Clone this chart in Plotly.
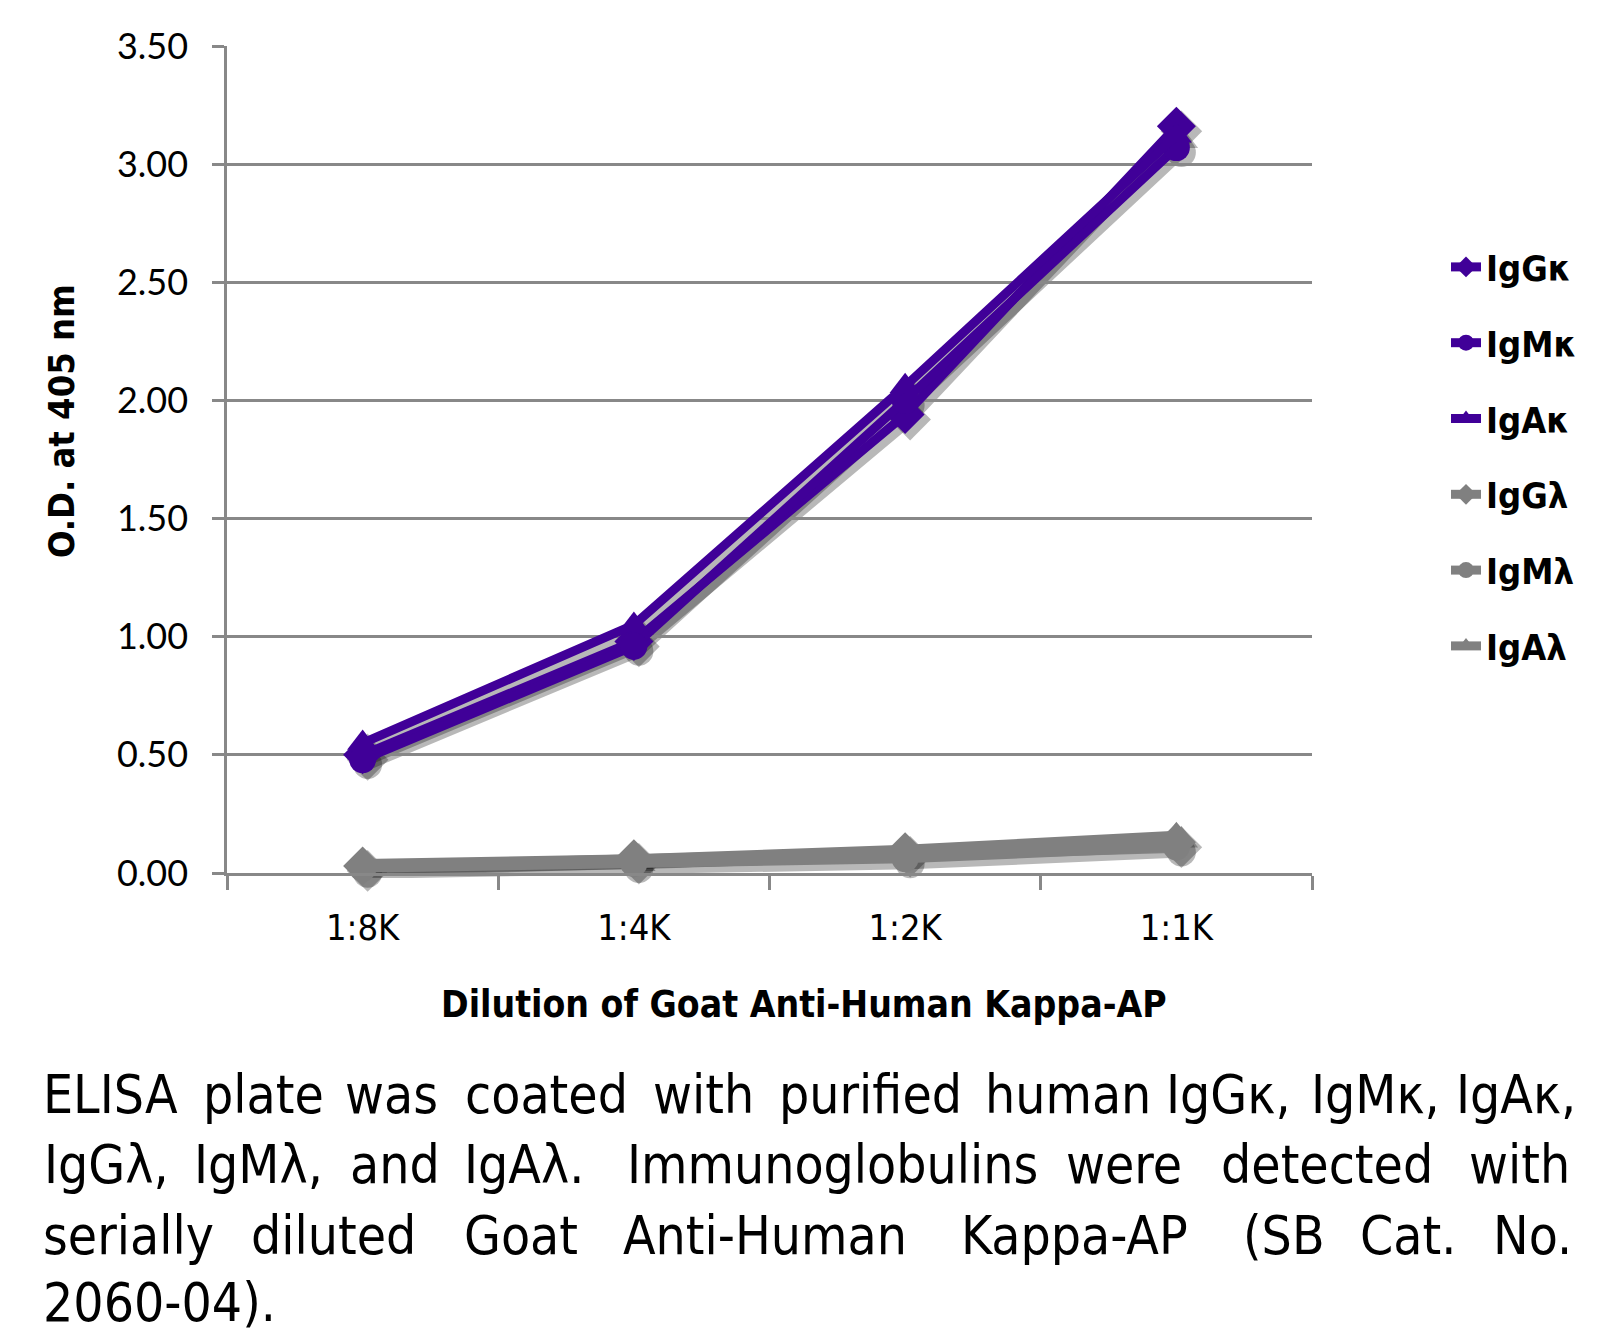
import plotly.graph_objects as go

# ---------------- data ----------------
categories = ["1:8K", "1:4K", "1:2K", "1:1K"]
series_names = ["IgGκ", "IgMκ", "IgAκ", "IgGλ", "IgMλ", "IgAλ"]
igg_kappa = [0.50, 0.98, 1.94, 3.16]
igm_kappa = [0.48, 0.96, 2.00, 3.07]
iga_kappa = [0.55, 1.05, 2.06, 3.12]
igg_lambda = [0.03, 0.06, 0.09, 0.13]
igm_lambda = [0.02, 0.04, 0.06, 0.11]
iga_lambda = [0.04, 0.06, 0.10, 0.16]
y_ticks = [0.0, 0.5, 1.0, 1.5, 2.0, 2.5, 3.0, 3.5]

x_title = "Dilution of Goat Anti-Human Kappa-AP"
y_title = "O.D. at 405 nm"
caption_line1 = ["ELISA", "plate", "was", "coated", "with", "purified", "human", "IgGκ,", "IgMκ,", "IgAκ,"]
caption_line2 = ["IgGλ,", "IgMλ,", "and", "IgAλ.", "Immunoglobulins", "were", "detected", "with"]
caption_line3 = ["serially", "diluted", "Goat", "Anti-Human", "Kappa-AP", "(SB", "Cat.", "No."]
caption_line4 = ["2060-04)."]

# ---------------- layout geometry (reference pixels) ----------------
OFF = 8                      # default body margin of the html page
W, H = 1604 - 2 * OFF, 1340 - 2 * OFF
L, R = 227, 1312             # plot area left/right in page pixels
T, B = 46, 873               # plot area top/bottom in page pixels
SH = 5                       # drop-shadow offset in px
PR, PB = R + SH, B + SH      # paper extents (plot area + shadow room)
line1_x = [41, 201, 343, 463, 651, 777, 983, 1164, 1309, 1454]
line2_x = [42, 192, 348, 462, 625, 1064, 1219, 1467]
line3_x = [41, 249, 462, 621, 959, 1241, 1358, 1491]
line4_x = [41]
caption_y = [1094, 1164, 1235, 1302]


def px(x):
    return (x - L) / (PR - L)


def py(y):
    return (PB - y) / (PB - T)


PURPLE = "#400098"
GRAY = "#808080"
SHADOW = "rgba(0,0,0,0.28)"
COND = "DejaVu Sans Condensed, Liberation Sans Narrow, Roboto, sans-serif"

series = [
    (series_names[0], igg_kappa, PURPLE, "diamond", 30),
    (series_names[1], igm_kappa, PURPLE, "circle", 27),
    (series_names[2], iga_kappa, PURPLE, "triangle-up", 27),
    (series_names[3], igg_lambda, GRAY, "diamond", 30),
    (series_names[4], igm_lambda, GRAY, "circle", 27),
    (series_names[5], iga_lambda, GRAY, "triangle-up", 27),
]

fig = go.Figure()
# drop shadows: same data on a hidden subplot shifted a few pixels down-right
for name, vals, col, sym, size in series:
    fig.add_trace(go.Scatter(
        x=categories, y=vals, mode="lines+markers", showlegend=False, hoverinfo="skip",
        line=dict(color=SHADOW, width=11),
        marker=dict(color=SHADOW, symbol=sym, size=size + 2, line=dict(width=0)),
        xaxis="x", yaxis="y", cliponaxis=False,
    ))
for i, (name, vals, col, sym, size) in enumerate(series):
    fig.add_trace(go.Scatter(
        x=categories, y=vals, name=name, mode="lines+markers",
        line=dict(color=col, width=9),
        marker=dict(color=col, symbol=sym, size=size, line=dict(width=0)),
        legendgroup=f"g{i}", xaxis="x2", yaxis="y2",
        cliponaxis=False,
    ))

fig.update_layout(
    width=W, height=H,
    margin=dict(l=L - OFF, r=W - (PR - OFF), t=T - OFF, b=H - (PB - OFF), autoexpand=False),
    paper_bgcolor="white", plot_bgcolor="rgba(0,0,0,0)",
    showlegend=True,
    legend=dict(
        x=px(1446), y=py(237), xanchor="left", yanchor="top",
        font=dict(family=COND, size=36, color="black", weight="bold"),
        tracegroupgap=26, bgcolor="rgba(0,0,0,0)",
        itemsizing="trace",
    ),
    font=dict(family=COND, color="black"),
    xaxis=dict(type="category", range=[-0.5, 3.5], visible=False,
               domain=[px(L + SH), 1], anchor="y"),
    yaxis=dict(range=[0, 3.5], visible=False,
               domain=[0, py(T + SH)], anchor="x"),
    xaxis2=dict(
        type="category", range=[-0.5, 3.5], domain=[0, px(R)], anchor="y2",
        showline=True, linecolor="#888888", linewidth=2.5,
        ticks="outside", tickson="boundaries", ticklen=14, tickwidth=2.5, tickcolor="#888888",
        tickfont=dict(family=COND, size=36, color="black"),
        ticklabelstandoff=21,
        showgrid=False, zeroline=False,
    ),
    yaxis2=dict(
        range=[0, 3.5], tickvals=y_ticks, tickformat=".2f", domain=[py(B), 1], anchor="x2",
        showline=True, linecolor="#888888", linewidth=2.5,
        ticks="outside", ticklen=12, tickwidth=2.5, tickcolor="#888888",
        tickfont=dict(family="Lato, sans-serif", size=36, color="black"),
        ticklabelstandoff=17,
        showgrid=True, gridcolor="#888888", gridwidth=2.5,
        zeroline=False,
    ),
)

annotations = [
    dict(text=f"<b>{x_title}</b>", x=px(804), y=py(1004), xref="paper", yref="paper",
         showarrow=False, xanchor="center", yanchor="middle",
         font=dict(family=COND, size=37, color="black")),
    dict(text=f"<b>{y_title}</b>", x=px(61), y=py(421), xref="paper", yref="paper",
         showarrow=False, xanchor="center", yanchor="middle", textangle=-90,
         font=dict(family=COND, size=36, color="black")),
]
CAP_FONT = dict(family=COND, size=53, color="black")
for words, xs, yy in ((caption_line1, line1_x, caption_y[0]),
                      (caption_line2, line2_x, caption_y[1]),
                      (caption_line3, line3_x, caption_y[2]),
                      (caption_line4, line4_x, caption_y[3])):
    for w, xx in zip(words, xs):
        annotations.append(dict(text=w, x=px(xx), y=py(yy), xref="paper", yref="paper",
                                showarrow=False, xanchor="left", yanchor="middle", font=CAP_FONT))
fig.update_layout(annotations=annotations)

fig.write_html("out.html")
